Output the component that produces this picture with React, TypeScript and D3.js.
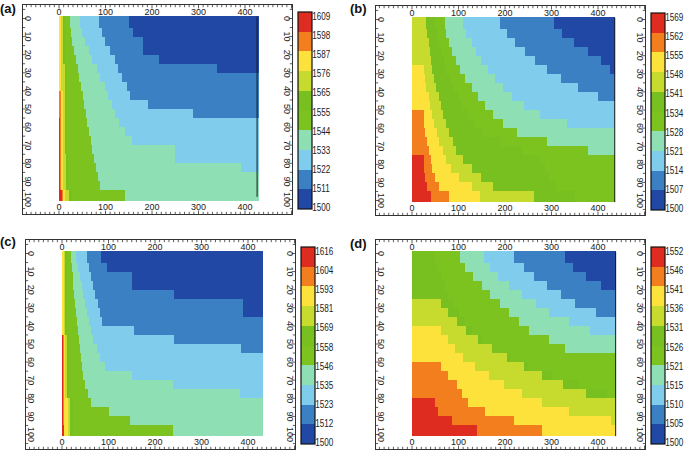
import * as d3 from 'd3';

// top of each model row (y axis, 5 unit rows)
const rowStarts = [0, 5, 10, 15, 20, 25, 30, 35, 40, 45, 50, 55, 60, 65, 70, 75, 80, 85, 90, 95];
const xTicks = [0, 100, 200, 300, 400];
const yTicks = [0, 10, 20, 30, 40, 50, 60, 70, 80, 90, 100];

// colour of each band, highest level first
const bandColors = ['#de2c20', '#f37e1d', '#fde23c', '#c6db2d', '#77c01f', '#7cc320', '#8ee0b4', '#7fccec', '#3b80c3', '#2248a6'];

const levelsA = [1609, 1598, 1587, 1576, 1565, 1555, 1544, 1533, 1522, 1511, 1500];
const levelsB = [1569, 1562, 1555, 1548, 1541, 1534, 1528, 1521, 1514, 1507, 1500];
const levelsC = [1616, 1604, 1593, 1581, 1569, 1558, 1546, 1535, 1523, 1512, 1500];
const levelsD = [1552, 1546, 1541, 1536, 1531, 1526, 1521, 1515, 1510, 1505, 1500];

// x where the field drops below each inner level, one value per row (top to bottom)
const edgesA = [
  [0, 0, 0, 0, 0, 0, 0, 0, 0, 0, 0, 3, 3, 3, 3, 3, 3, 3, 3, 6],
  [1, 1, 1, 1, 1, 1, 1, 1, 5, 5, 5, 5, 5, 5, 5, 5, 5, 5, 5, 9],
  [4, 4, 4, 4, 4, 4, 4, 4, 8, 8, 8, 8, 8, 8, 8, 8, 8, 8, 8, 13],
  [9, 9, 9, 9, 9, 12, 12, 12, 12, 12, 12, 12, 12, 12, 12, 15, 15, 15, 15, 22],
  [12, 12, 12, 12, 12, 15, 15, 15, 15, 15, 15, 15, 15, 15, 15, 19, 19, 19, 19, 28],
  [24, 26, 29, 33, 36, 40, 44, 47, 51, 54, 58, 61, 65, 69, 72, 76, 79, 83, 89, 142],
  [46, 49, 56, 64, 71, 81, 89, 99, 106, 114, 121, 128, 142, 156, 249, 249, 392, 440, 440, 440],
  [87, 92, 99, 110, 121, 126, 135, 146, 153, 192, 289, 440, 440, 440, 440, 440, 440, 440, 440, 440],
  [151, 160, 181, 181, 216, 339, 440, 440, 440, 440, 440, 440, 440, 440, 440, 440, 440, 440, 440, 440],
];

const edgesB = [
  [0, 0, 0, 0, 0, 0, 0, 0, 0, 0, 0, 0, 0, 0, 0, 26, 26, 28, 33, 40],
  [0, 0, 0, 0, 0, 0, 0, 0, 0, 0, 26, 26, 28, 33, 36, 41, 44, 50, 59, 79],
  [0, 0, 0, 0, 0, 26, 28, 31, 36, 38, 43, 48, 53, 59, 66, 73, 84, 102, 128, 146],
  [30, 33, 36, 38, 41, 44, 48, 51, 57, 62, 67, 73, 79, 88, 95, 109, 128, 149, 175, 262],
  [50, 53, 57, 62, 68, 74, 82, 90, 100, 110, 121, 135, 152, 190, 236, 275, 285, 295, 310, 350],
  [70, 73, 79, 86, 95, 104, 115, 128, 142, 157, 175, 196, 225, 291, 378, 440, 440, 440, 440, 440],
  [109, 117, 128, 138, 149, 164, 178, 196, 214, 240, 276, 334, 440, 440, 440, 440, 440, 440, 440, 440],
  [189, 204, 222, 243, 265, 291, 320, 356, 399, 440, 440, 440, 440, 440, 440, 440, 440, 440, 440, 440],
  [305, 323, 349, 378, 407, 425, 440, 440, 440, 440, 440, 440, 440, 440, 440, 440, 440, 440, 440, 440],
];

const edgesC = [
  [0, 0, 0, 0, 0, 0, 0, 0, 0, 3, 3, 3, 3, 3, 3, 3, 3, 3, 3, 4],
  [1, 1, 1, 1, 1, 1, 1, 1, 1, 4, 4, 4, 4, 4, 4, 4, 4, 4, 4, 5],
  [4, 4, 4, 4, 4, 4, 4, 4, 4, 7, 7, 7, 7, 7, 7, 7, 12, 12, 12, 12],
  [7, 7, 7, 7, 7, 7, 7, 7, 7, 10, 10, 10, 10, 10, 10, 10, 18, 18, 18, 18],
  [10, 10, 10, 10, 10, 10, 10, 10, 10, 14, 14, 14, 14, 14, 14, 14, 24, 24, 24, 24],
  [20, 21, 23, 24, 26, 28, 30, 32, 34, 36, 38, 40, 42, 46, 49, 55, 62, 100, 147, 238],
  [31, 35, 38, 42, 46, 49, 53, 58, 62, 67, 75, 82, 93, 151, 238, 383, 440, 440, 440, 440],
  [53, 57, 62, 67, 71, 78, 82, 86, 154, 241, 386, 440, 440, 440, 440, 440, 440, 440, 440, 440],
  [84, 96, 151, 151, 241, 390, 390, 440, 440, 440, 440, 440, 440, 440, 440, 440, 440, 440, 440, 440],
];

const edgesD = [
  [0, 0, 0, 0, 0, 0, 0, 0, 0, 0, 0, 0, 0, 0, 0, 0, 49, 55, 85, 139],
  [0, 0, 0, 0, 0, 0, 0, 0, 0, 0, 0, 0, 63, 78, 96, 107, 121, 157, 219, 280],
  [0, 0, 0, 0, 0, 0, 0, 0, 63, 78, 92, 110, 136, 165, 197, 237, 280, 338, 429, 440],
  [0, 0, 0, 0, 0, 63, 78, 96, 117, 143, 172, 204, 241, 280, 324, 375, 440, 440, 440, 440],
  [50, 55, 62, 70, 78, 88, 100, 115, 130, 150, 175, 210, 250, 300, 360, 420, 440, 440, 440, 440],
  [103, 114, 132, 150, 168, 190, 208, 230, 251, 295, 328, 440, 440, 440, 440, 440, 440, 440, 440, 440],
  [154, 168, 186, 208, 237, 266, 295, 338, 382, 440, 440, 440, 440, 440, 440, 440, 440, 440, 440, 440],
  [219, 240, 262, 290, 320, 350, 395, 440, 440, 440, 440, 440, 440, 440, 440, 440, 440, 440, 440, 440],
  [328, 346, 375, 406, 440, 440, 440, 440, 440, 440, 440, 440, 440, 440, 440, 440, 440, 440, 440, 440],
];

const FONT = '"Liberation Sans", Arial, Helvetica, sans-serif';
const W = 271;
const H = 211;

function Panel({ tag, left, top, tagX, tagY, xMax, edges, levels, lineX, lineEnd }) {
  const x = d3.scaleLinear().domain([0, 400]).range([37, 223]);
  const y = d3.scaleLinear().domain([0, 100]).range([14.5, 195.5]);
  const cb = d3.scaleLinear().domain([0, 10]).range([8, 205]);
  const cbLabel = d3.scaleLinear().domain([0, 10]).range([12, 203.3]);

  const cells = [];
  rowStarts.forEach((r, k) => {
    const y0 = k === 0 ? -1.2 : r;
    const y1 = k === rowStarts.length - 1 ? 100.9 : rowStarts[k + 1];
    let prev = 0;
    bandColors.forEach((c, b) => {
      const e = b < edges.length ? Math.min(Math.max(edges[b][k], prev), xMax) : xMax;
      if (e > prev) {
        cells.push(
          <rect key={`${k}-${b}`} x={x(prev)} y={y(y0)} width={x(e) - x(prev)} height={y(y1) - y(y0)} fill={c} />
        );
      }
      prev = Math.max(prev, e);
    });
  });

  const xMinor = d3.range(-70, 510, 10).filter((v) => x(v) > 1 && x(v) < W - 1);
  const yMinor = d3.range(-5, 110, 5).filter((v) => y(v) > 1 && y(v) < H - 1);

  return (
    <g transform={`translate(${left},${top})`} fontFamily={FONT}>
      <text x={tagX} y={tagY} fontSize={13} fontWeight="bold" fill="#111">
        {tag}
      </text>
      <g shapeRendering="crispEdges">{cells}</g>
      {lineX != null && (
        <line x1={x(lineX)} x2={x(lineX)} y1={y(-1)} y2={y(lineEnd)} stroke="#1a1a1a" strokeWidth={1} />
      )}
      <rect x={0.5} y={0.5} width={W - 1} height={H - 1} fill="none" stroke="#333" strokeWidth={1} />
      <g stroke="#333" strokeWidth={0.8}>
        {xMinor.map((v) => {
          const len = v % 100 === 0 ? 3.5 : 2.2;
          return (
            <g key={`xt${v}`}>
              <line x1={x(v)} x2={x(v)} y1={1} y2={1 + len} />
              <line x1={x(v)} x2={x(v)} y1={H - 1} y2={H - 1 - len} />
            </g>
          );
        })}
        {yMinor.map((v) => {
          const len = v % 10 === 0 ? 3.5 : 2.2;
          return (
            <g key={`yt${v}`}>
              <line x1={1} x2={1 + len} y1={y(v)} y2={y(v)} />
              <line x1={W - 1} x2={W - 1 - len} y1={y(v)} y2={y(v)} />
            </g>
          );
        })}
      </g>
      <g fontSize={9} fill="#222" textAnchor="middle">
        {xTicks.map((v) => (
          <g key={`xl${v}`}>
            <text x={x(v)} y={8} dominantBaseline="central">
              {v}
            </text>
            <text x={x(v)} y={202.7} dominantBaseline="central">
              {v}
            </text>
          </g>
        ))}
        {yTicks.map((v) => (
          <g key={`yl${v}`}>
            <text transform={`translate(6.3,${y(v)}) rotate(90)`} dominantBaseline="central">
              {v}
            </text>
            <text transform={`translate(264.7,${y(v)}) rotate(90)`} dominantBaseline="central">
              {v}
            </text>
          </g>
        ))}
      </g>
      <g shapeRendering="crispEdges">
        {bandColors.map((c, i) => (
          <rect key={`cb${i}`} x={276} y={cb(i)} width={14} height={cb(i + 1) - cb(i)} fill={c} />
        ))}
      </g>
      <rect x={276} y={8} width={14} height={197} fill="none" stroke="#111" strokeWidth={1.2} />
      <g fontSize={11} fill="#222">
        {levels.map((v, i) => (
          <text
            key={`cl${i}`}
            transform={`translate(290.3,${cbLabel(i)}) scale(0.74,1)`}
            dominantBaseline="central"
          >
            {v}
          </text>
        ))}
      </g>
    </g>
  );
}

export default function App() {
  return (
    <svg
      width={685}
      height={451}
      style={{ position: 'absolute', left: 0, top: 0, background: '#fff' }}
    >
      <Panel tag="(a)" left={22} top={4} tagX={-22} tagY={9} xMax={430} edges={edgesA} levels={levelsA} lineX={426} lineEnd={98.5} />
      <Panel tag="(b)" left={375} top={5} tagX={-25} tagY={8} xMax={436} edges={edgesB} levels={levelsB} lineX={436} lineEnd={100.9} />
      <Panel tag="(c)" left={25} top={239} tagX={-25} tagY={7} xMax={432} edges={edgesC} levels={levelsC} lineX={null} lineEnd={0} />
      <Panel tag="(d)" left={375} top={239} tagX={-25} tagY={9} xMax={438} edges={edgesD} levels={levelsD} lineX={438} lineEnd={100.9} />
    </svg>
  );
}
